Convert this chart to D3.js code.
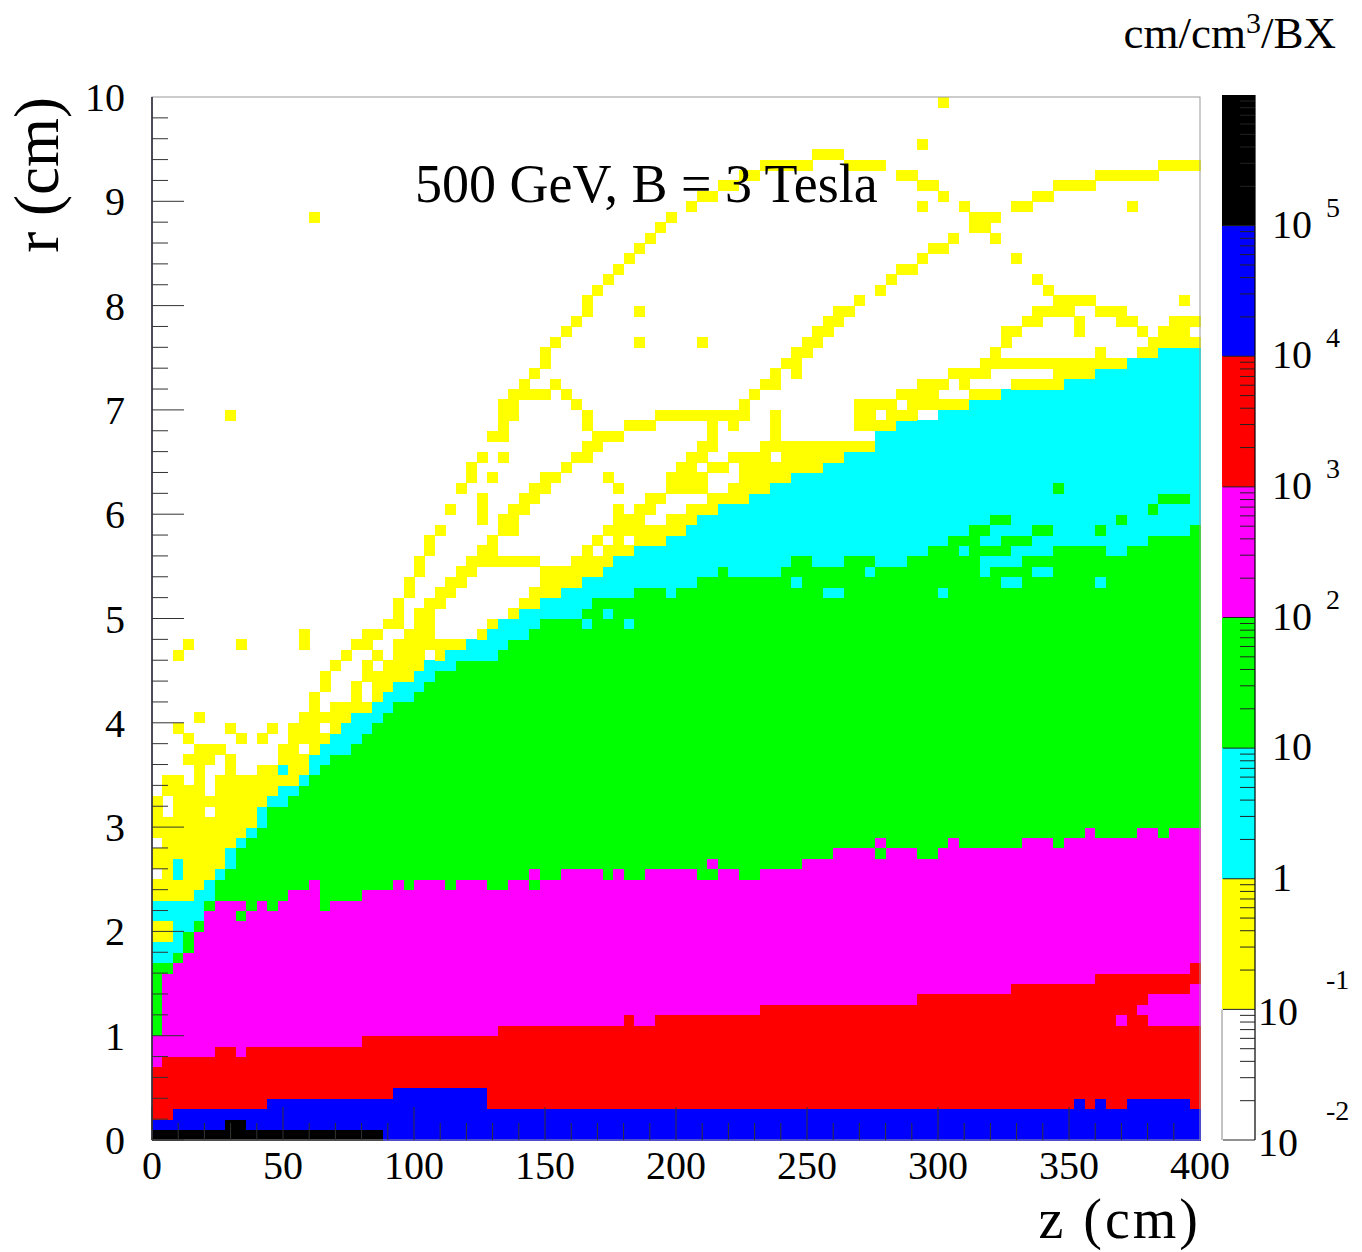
<!DOCTYPE html>
<meta charset="utf-8">
<style>
body { margin: 0; background: #fff; }
svg { display: block; }
text { font-family: "Liberation Serif", "Times New Roman", serif; fill: #000; }
</style>
<svg width="1362" height="1252"></svg>
<script src="https://cdn.jsdelivr.net/npm/d3@7/dist/d3.min.js"></script>
<script>

// 100 z-bins (4 cm) x 100 r-bins (0.1 cm).
// For every z-bin: first r-bin that is no longer inside the band of a given density
var blackTop = [1,1,1,1,1,1,1,2,2,1, 1,1,1,1,1,1,1,1,1,1, 1,1,0,0,0,0,0,0,0,0,
  0,0,0,0,0,0,0,0,0,0, 0,0,0,0,0,0,0,0,0,0, 0,0,0,0,0,0,0,0,0,0,
  0,0,0,0,0,0,0,0,0,0, 0,0,0,0,0,0,0,0,0,0, 0,0,0,0,0,0,0,0,0,0,
  0,0,0,0,0,0,0,0,0,0];
var blueTop = [2,2,3,3,3,3,3,3,3,3, 3,4,4,4,4,4,4,4,4,4, 4,4,4,5,5,5,5,5,5,5,
  5,5,3,3,3,3,3,3,3,3, 3,3,3,3,3,3,3,3,3,3, 3,3,3,3,3,3,3,3,3,3,
  3,3,3,3,3,3,3,3,3,3, 3,3,3,3,3,3,3,3,3,3, 3,3,3,3,3,3,3,3,4,3,
  4,3,3,4,4,4,4,4,4,3];
var redTop = [7,8,8,8,8,8,9,9,8,9, 9,9,9,9,9,9,9,9,9,9, 10,10,10,10,10,10,10,10,10,10,
  10,10,10,11,11,11,11,11,11,11, 11,11,11,11,11,12,11,11,12,12, 12,12,12,12,12,12,12,12,13,13,
  13,13,13,13,13,13,13,13,13,13, 13,13,13,14,14,14,14,14,14,14, 14,14,15,15,15,15,15,15,15,15,
  16,16,16,16,16,16,16,16,16,17];
var magentaTop = [10,16,17,18,20,22,23,23,23,22, 23,22,23,24,24,25,22,23,23,23, 24,24,24,25,24,25,25,25,24,25,
  25,25,24,24,25,25,24,25,25,26, 26,26,26,25,26,25,25,26,26,26, 26,26,25,25,26,26,25,25,26,26,
  26,26,27,27,27,28,28,28,28,27, 28,28,28,27,27,28,29,28,28,28, 28,28,28,29,29,29,28,29,29,30,
  29,29,29,29,30,30,29,30,30,30];
var greenTop = [17,17,18,20,21,23,25,26,28,29, 30,32,32,33,34,35,36,37,37,38, 39,40,41,42,42,43,44,45,45,46,
  46,46,46,47,48,48,49,50,50,50, 50,51,52,52,52,52,53,53,53,52, 53,53,54,54,55,54,54,54,54,54,
  55,56,56,55,55,55,56,56,56,55, 55,55,56,56,57,57,58,58,59,54, 55,53,53,56,54,54,57,57,57,57,
  57,56,56,57,57,58,58,58,58,59];
var cyanTop = [19,19,23,23,24,25,26,28,29,30, 32,33,34,34,35,37,38,39,40,41, 41,42,43,44,44,45,46,46,47,47,
  48,48,49,50,50,51,51,52,52,53, 53,54,54,55,56,56,57,57,57,58, 58,59,60,60,61,61,61,62,62,63,
  63,64,64,64,65,65,66,66,66,68, 68,69,69,69,69,70,70,70,71,71, 71,72,72,72,72,72,72,73,73,73,
  74,74,74,75,75,75,76,76,76,76];

// yellow (0.1 - 1) runs above the cyan band: [z-bin, first r-bin, last r-bin]
var yellowRuns = [
  [0,19,20],[0,23,24],[0,26,27],[0,29,32],
  [1,19,20],[1,23,30],[1,33,34],
  [2,23,24],[2,27,34],[2,39,39],[2,46,46],
  [3,23,33],[3,36,36],[3,38,38],[3,47,47],
  [4,24,37],[4,40,40],
  [5,25,30],[5,32,32],[5,36,37],
  [6,26,34],[6,37,37],
  [7,28,36],[7,39,39],[7,69,69],
  [8,29,34],[8,38,38],[8,47,47],
  [9,30,34],
  [10,32,35],[10,38,38],
  [11,33,35],[11,39,39],
  [12,34,34],[12,36,37],
  [13,34,39],
  [14,35,36],[14,38,40],[14,47,48],
  [15,37,42],[15,88,88],
  [16,38,38],[16,40,40],[16,43,44],
  [17,39,41],[17,45,45],
  [18,40,41],[18,46,46],
  [19,41,43],[19,47,47],
  [20,41,41],[20,44,45],[20,47,48],
  [21,42,44],[21,46,46],[21,48,48],
  [22,43,45],[22,49,49],
  [23,44,47],[23,49,51],
  [24,44,48],[24,52,53],
  [25,45,50],[25,54,55],
  [26,47,51],[26,56,57],
  [27,46,47],[27,51,52],[27,58,58],
  [28,47,47],[28,52,53],[28,60,60],
  [29,47,47],[29,53,54],[29,62,62],
  [30,54,55],[30,63,64],
  [31,48,48],[31,55,56],[31,59,61],[31,65,65],
  [32,49,49],[32,55,57],[32,63,63],[32,67,67],
  [33,55,55],[33,58,59],[33,65,65],[33,67,70],
  [34,50,50],[34,55,55],[34,58,60],[34,69,71],
  [35,51,51],[35,55,55],[35,60,61],[35,71,72],
  [36,51,52],[36,55,55],[36,61,62],[36,71,71],[36,73,73],
  [37,52,54],[37,62,63],[37,71,71],[37,74,75],
  [38,52,54],[38,63,63],[38,72,72],[38,76,76],
  [39,53,54],[39,64,64],[39,71,71],[39,77,77],
  [40,53,55],[40,65,65],[40,70,70],[40,78,78],
  [41,54,56],[41,65,66],[41,68,69],[41,79,80],
  [42,54,55],[42,57,57],[42,66,67],[42,81,81],
  [43,55,56],[43,58,58],[43,63,63],[43,67,67],[43,82,82],
  [44,56,60],[44,62,62],[44,67,67],[44,83,83],
  [45,56,56],[45,58,59],[45,68,68],[45,84,84],
  [46,57,60],[46,68,68],[46,76,76],[46,79,79],[46,85,85],
  [47,57,58],[47,60,61],[47,68,68],[47,86,86],
  [48,57,58],[48,61,61],[48,69,69],[48,87,87],
  [49,58,59],[49,62,63],[49,69,69],[49,88,88],
  [50,58,59],[50,62,64],[50,69,69],
  [51,59,60],[51,62,65],[51,69,69],[51,89,89],
  [52,60,60],[52,62,63],[52,65,66],[52,69,69],[52,76,76],[52,90,90],
  [53,60,61],[53,64,64],[53,66,69],[53,90,90],
  [54,61,61],[54,64,64],[54,69,69],[54,91,91],
  [55,61,62],[55,65,65],[55,68,69],[55,91,91],
  [56,61,65],[56,69,70],[56,92,92],
  [57,62,65],[57,71,71],[57,92,92],
  [58,62,66],[58,72,72],[58,93,93],
  [59,63,64],[59,66,69],[59,72,73],[59,93,93],
  [60,63,66],[60,74,74],[60,93,93],
  [61,64,66],[61,73,75],[61,93,93],
  [62,64,66],[62,75,76],[62,93,93],
  [63,64,66],[63,76,77],[63,94,94],
  [64,65,66],[64,77,78],[64,94,94],
  [65,65,66],[65,78,79],[65,94,94],
  [66,66,66],[66,79,79],[66,93,93],
  [67,66,66],[67,68,70],[67,80,80],[67,93,93],
  [68,66,66],[68,68,70],[68,93,93],
  [69,68,68],[69,70,70],[69,81,81],[69,93,93],
  [70,68,70],[70,82,82],
  [71,69,69],[71,71,71],[71,83,83],[71,92,92],
  [72,69,71],[72,83,83],[72,92,92],
  [73,70,72],[73,84,84],[73,89,89],[73,91,91],[73,95,95],
  [74,70,72],[74,85,85],[74,91,91],
  [75,70,70],[75,72,72],[75,85,85],[75,90,90],[75,99,99],
  [76,70,70],[76,73,73],[76,86,86],
  [77,70,70],[77,72,73],[77,89,89],
  [78,71,71],[78,73,73],[78,87,88],
  [79,71,71],[79,73,74],[79,87,88],
  [80,71,71],[80,74,75],[80,86,86],[80,88,88],
  [81,74,74],[81,76,77],
  [82,72,72],[82,74,74],[82,77,77],[82,84,84],[82,89,89],
  [83,72,72],[83,74,74],[83,78,78],[83,89,89],
  [84,72,72],[84,74,74],[84,78,79],[84,82,82],[84,90,90],
  [85,72,72],[85,74,74],[85,79,79],[85,81,81],[85,90,90],
  [86,72,74],[86,79,80],[86,91,91],
  [87,73,74],[87,79,80],[87,91,91],
  [88,73,74],[88,77,78],[88,80,80],[88,91,91],
  [89,73,74],[89,80,80],[89,91,91],
  [90,74,75],[90,79,79],[90,92,92],
  [91,74,74],[91,79,79],[91,92,92],
  [92,74,74],[92,78,79],[92,92,92],
  [93,78,78],[93,89,89],[93,92,92],
  [94,75,75],[94,77,77],[94,92,92],
  [95,75,76],[95,92,92],
  [96,76,77],[96,93,93],
  [97,76,78],[97,93,93],
  [98,76,78],[98,80,80],[98,93,93],
  [99,76,76],[99,78,78],[99,93,93]
];

// single cells that differ from their surroundings: [z-bin, r-bin]
var cyanSpots = [[0,21],[0,22],[1,21],[1,22],[2,25],[2,26],[12,35],[41,49],[43,50],[45,49],
  [61,53],[64,52],[65,52],[68,54],[75,52],[77,56],[90,53]];
var greenSpots = [[8,21],[79,56],[79,58],[80,56],[80,59],[81,54],[81,56],[81,57],[81,59],
  [82,54],[82,57],[83,57],[84,55],[84,58],[85,55],[85,58],[86,62],[90,58],[92,59],
  [95,60],[96,61],[97,61],[98,61]];
var magentaSpots = [[36,25],[53,26],[69,28],[92,11],[94,12],[95,11],[95,12],[95,13],
  [96,11],[96,12],[96,13],[97,11],[97,12],[97,13],[98,11],[98,12],[98,13],
  [99,11],[99,12],[99,13],[99,14]];

var zTicks = [0, 50, 100, 150, 200, 250, 300, 350, 400];
var rTicks = [0, 1, 2, 3, 4, 5, 6, 7, 8, 9, 10];
var barTicks = [1e-2, 1e-1, 1, 10, 1e2, 1e3, 1e4, 1e5];
var barLabels = [["10", "-2"], ["10", "-1"], ["1", ""], ["10", ""], ["10", "2"], ["10", "3"], ["10", "4"], ["10", "5"]];

var svg = d3.select("svg");

var x = d3.scaleLinear().domain([0, 400]).range([152, 1200]),
    y = d3.scaleLinear().domain([0, 10]).range([1140, 97]),
    zc = d3.scaleLog().domain([1e-2, 1e6]).range([1140, 95]),
    color = d3.scaleThreshold()
      .domain([1e-1, 1, 10, 1e2, 1e3, 1e4, 1e5])
      .range(["#ffffff", "#ffff00", "#00ffff", "#00ff00", "#ff00ff", "#ff0000", "#0000ff", "#000000"]);

var layers = [
  {top: blackTop, v: 3e5}, {top: blueTop, v: 3e4}, {top: redTop, v: 3e3},
  {top: magentaTop, v: 300}, {top: greenTop, v: 30}, {top: cyanTop, v: 3}
];

var grid = [];
for (var i = 0; i < 100; ++i) {
  grid.push([]);
  for (var j = 0; j < 100; ++j) {
    var v = 0;
    for (var k = 0; k < layers.length; ++k) {
      if (j < layers[k].top[i]) { v = layers[k].v; break; }
    }
    grid[i].push(v);
  }
}
yellowRuns.forEach(function(d) {
  for (var j = d[1]; j <= d[2]; ++j) if (grid[d[0]][j] === 0) grid[d[0]][j] = 0.3;
});
cyanSpots.forEach(function(d) { grid[d[0]][d[1]] = 3; });
greenSpots.forEach(function(d) { grid[d[0]][d[1]] = 30; });
magentaSpots.forEach(function(d) { grid[d[0]][d[1]] = 300; });

var cells = [];
grid.forEach(function(col, i) {
  col.forEach(function(v, j) { if (v > 0) cells.push({i: i, j: j, v: v}); });
});

svg.append("g")
    .attr("shape-rendering", "crispEdges")
  .selectAll("rect")
  .data(cells)
  .enter().append("rect")
    .attr("x", function(d) { return x(d.i * 4); })
    .attr("y", function(d) { return y((d.j + 1) / 10); })
    .attr("width", function(d) { return x((d.i + 1) * 4) - x(d.i * 4) + 0.5; })
    .attr("height", function(d) { return y(d.j / 10) - y((d.j + 1) / 10) + 0.5; })
    .attr("fill", function(d) { return color(d.v); });

// frame
svg.append("rect")
    .attr("x", x(0)).attr("y", y(10))
    .attr("width", x(400) - x(0)).attr("height", y(0) - y(10))
    .attr("fill", "none").attr("stroke", "#999").attr("stroke-width", 1);
svg.append("line")
    .attr("x1", x(0)).attr("x2", x(0)).attr("y1", y(0)).attr("y2", y(10))
    .attr("stroke", "#223").attr("stroke-width", 1.5);

// r axis ticks (inward)
var ax = svg.append("g").attr("stroke", "#333").attr("stroke-width", 1);
d3.range(0, 50).forEach(function(k) {
  var r = k / 5, major = k % 5 === 0;
  ax.append("line")
      .attr("x1", x(0)).attr("x2", x(0) + (major ? 32 : 16))
      .attr("y1", y(r)).attr("y2", y(r));
});
d3.range(0, 40).forEach(function(k) {
  var z = k * 10, major = k % 5 === 0;
  ax.append("line")
      .attr("x1", x(z)).attr("x2", x(z))
      .attr("y1", y(0)).attr("y2", y(0) - (major ? 33 : 17));
});

svg.append("g").selectAll("text")
  .data(rTicks)
  .enter().append("text")
    .attr("x", 125)
    .attr("y", function(d) { return y(d) + 14; })
    .attr("text-anchor", "end")
    .style("font-size", "40px")
    .text(function(d) { return d; });

svg.append("g").selectAll("text")
  .data(zTicks)
  .enter().append("text")
    .attr("x", function(d) { return x(d); })
    .attr("y", 1179)
    .attr("text-anchor", "middle")
    .style("font-size", "40px")
    .text(function(d) { return d; });

svg.append("text")
    .attr("transform", "translate(58,97) rotate(-90)")
    .attr("text-anchor", "end")
    .style("font-size", "63px")
    .text("r (cm)");

svg.append("text")
    .attr("x", 1201).attr("y", 1238)
    .attr("text-anchor", "end")
    .style("font-size", "56px")
    .style("letter-spacing", "3px")
    .text("z (cm)");

svg.append("text")
    .attr("x", 415).attr("y", 202)
    .style("font-size", "54px")
    .text("500 GeV, B = 3 Tesla");

var unit = svg.append("text")
    .attr("x", 1336).attr("y", 48)
    .attr("text-anchor", "end")
    .style("font-size", "45px");
unit.append("tspan").text("cm/cm");
unit.append("tspan").attr("dy", -15).style("font-size", "30px").text("3");
unit.append("tspan").attr("dy", 15).text("/BX");

// colour bar
var barX = 1222, barW = 33;
var bands = barTicks.map(function(lo, k, a) {
  return {lo: lo, hi: k + 1 < a.length ? a[k + 1] : 1e6};
});
svg.append("g")
    .attr("shape-rendering", "crispEdges")
  .selectAll("rect")
  .data(bands)
  .enter().append("rect")
    .attr("x", barX)
    .attr("y", function(d) { return zc(d.hi); })
    .attr("width", barW)
    .attr("height", function(d) { return zc(d.lo) - zc(d.hi); })
    .attr("fill", function(d) { return color(Math.sqrt(d.lo * d.hi)); });

svg.append("line")
    .attr("x1", barX).attr("x2", barX).attr("y1", zc(1e-2)).attr("y2", zc(1e-1))
    .attr("stroke", "#888");
svg.append("line")
    .attr("x1", barX + barW).attr("x2", barX + barW).attr("y1", zc(1e-2)).attr("y2", zc(1e6))
    .attr("stroke", "#000").attr("stroke-width", 1.2);

var bt = svg.append("g").attr("stroke", "#222").attr("stroke-width", 1);
barTicks.forEach(function(t) {
  bt.append("line")
      .attr("x1", barX + barW - 32).attr("x2", barX + barW)
      .attr("y1", zc(t)).attr("y2", zc(t));
  for (var m = 2; m < 10; ++m) {
    bt.append("line")
        .attr("x1", barX + barW - 15).attr("x2", barX + barW)
        .attr("y1", zc(m * t)).attr("y2", zc(m * t));
  }
});

var bl = svg.append("g").selectAll("g")
  .data(barTicks)
  .enter().append("g");
bl.append("text")
    .attr("x", function(d, k) { return barLabels[k][1].charAt(0) === "-" ? 1258 : 1272; })
    .attr("y", function(d, k) { return zc(d) + (barLabels[k][1].charAt(0) === "-" ? 16 : 12); })
    .style("font-size", "40px")
    .text(function(d, k) { return barLabels[k][0]; });
bl.append("text")
    .attr("x", 1326)
    .attr("y", function(d, k) { return zc(d) - (barLabels[k][1].charAt(0) === "-" ? 20 : 9); })
    .style("font-size", "28px")
    .text(function(d, k) { return barLabels[k][1]; });

</script>
